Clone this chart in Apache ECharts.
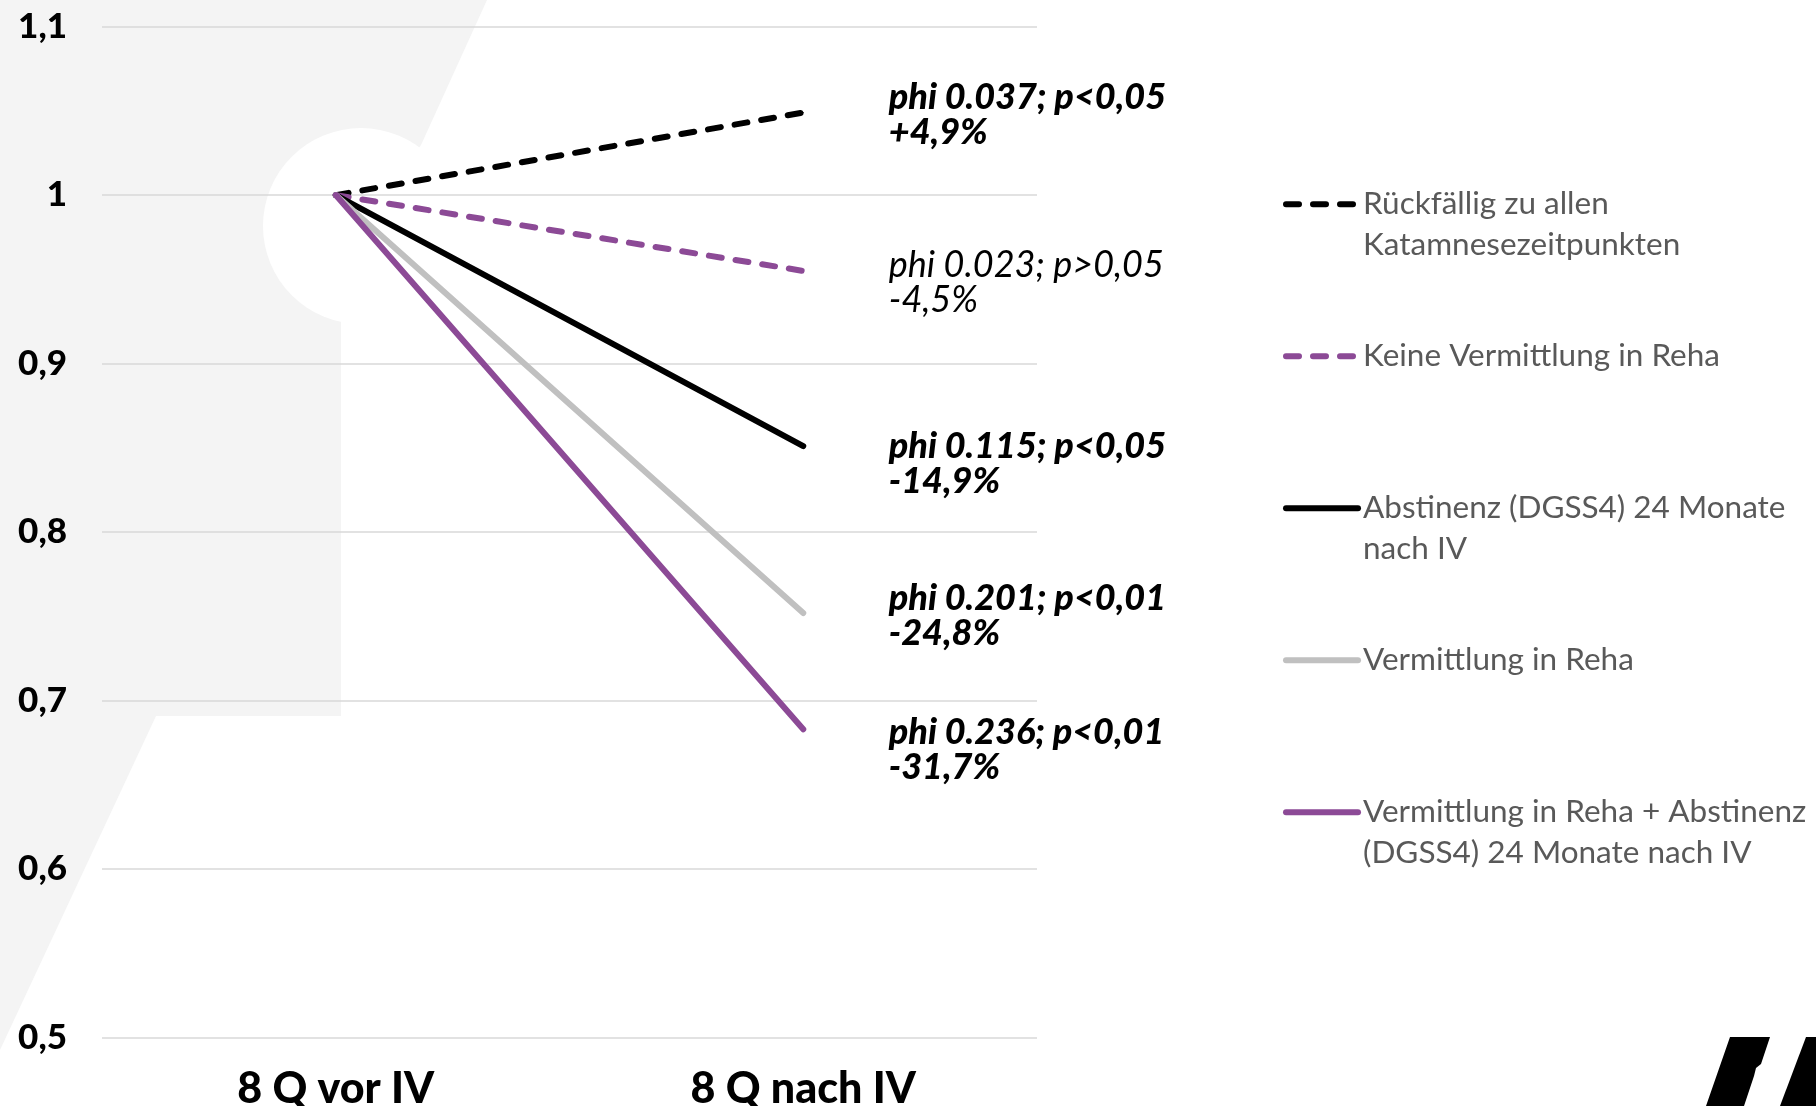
<!DOCTYPE html>
<html>
<head>
<meta charset="utf-8">
<script src="https://cdn.jsdelivr.net/npm/echarts@6/dist/echarts.min.js"></script>
<style>
  html, body { margin: 0; padding: 0; background: #ffffff; }
  #chart { width: 1816px; height: 1106px; }
</style>
</head>
<body>
<div id="chart"></div>
<script>
// Categories on the x axis
const categories = ['8 Q vor IV', '8 Q nach IV'];

// Series names (legend order)
const seriesNames = [
  'Rückfällig zu allen Katamnesezeitpunkten',
  'Keine Vermittlung in Reha',
  'Abstinenz (DGSS4) 24 Monate nach IV',
  'Vermittlung in Reha',
  'Vermittlung in Reha + Abstinenz (DGSS4) 24 Monate nach IV'
];

// Legend text, wrapped the way it is printed
const legendLines = [
  ['Rückfällig zu allen', 'Katamnesezeitpunkten'],
  ['Keine Vermittlung in Reha'],
  ['Abstinenz (DGSS4) 24 Monate', 'nach IV'],
  ['Vermittlung in Reha'],
  ['Vermittlung in Reha + Abstinenz', '(DGSS4) 24 Monate nach IV']
];

// Indexed values: before (8 Q vor IV) and after (8 Q nach IV)
const beforeValues = [1, 1, 1, 1, 1];
const afterValues = [1.049, 0.955, 0.851, 0.752, 0.683];

// Annotation texts next to the end points
const phiLabels = [
  'phi 0.037; p<0,05',
  'phi 0.023; p>0,05',
  'phi 0.115; p<0,05',
  'phi 0.201; p<0,01',
  'phi 0.236; p<0,01'
];
const changeLabels = ['+4,9%', '-4,5%', '-14,9%', '-24,8%', '-31,7%'];
const significant = [true, false, true, true, true];

// Y axis tick labels
const yTickLabels = { '0.5': '0,5', '0.6': '0,6', '0.7': '0,7', '0.8': '0,8', '0.9': '0,9', '1': '1', '1.1': '1,1' };

// Styling
const FONT = 'Lato, "Noto Sans", sans-serif';
const FONT_HEAVY = '"Lato Black", "Lato Heavy", Lato, "Noto Sans", sans-serif';
const lineColors = ['#000000', '#8c4a96', '#000000', '#c0c0c0', '#8c4a96'];
const dashed = [true, true, false, false, false];
const labelShiftY = [2, 12, 18, 3, 21];

const chart = echarts.init(document.getElementById('chart'), null, { renderer: 'canvas' });

const series = seriesNames.map(function (name, i) {
  return {
    name: name,
    type: 'line',
    symbol: 'circle',
    symbolSize: 1,
    showSymbol: true,
    z: 2 + i,
    color: lineColors[i],
    itemStyle: { color: lineColors[i] },
    lineStyle: {
      color: lineColors[i],
      width: 6,
      type: dashed[i] ? [13, 14] : 'solid',
      cap: 'round'
    },
    emphasis: { disabled: true },
    data: [
      beforeValues[i],
      {
        value: afterValues[i],
        label: {
          show: true,
          position: 'right',
          distance: 85,
          offset: [0, labelShiftY[i]],
          formatter: phiLabels[i] + '\n' + changeLabels[i],
          fontFamily: significant[i] ? FONT_HEAVY : FONT,
          fontSize: 36,
          fontStyle: 'italic',
          fontWeight: significant[i] ? 900 : 400,
          lineHeight: 35,
          color: '#000000'
        }
      }
    ]
  };
});

const option = {
  backgroundColor: '#ffffff',
  animation: false,
  graphic: [
    {
      type: 'polygon',
      z: -10,
      silent: true,
      shape: {
        points: [[0, 0], [487, 0], [421, 145], [361, 226], [341, 322], [341, 716], [156, 716], [0, 1050]]
      },
      style: { fill: '#f4f4f4' }
    },
    {
      type: 'circle',
      z: -9,
      silent: true,
      shape: { cx: 361, cy: 226, r: 98 },
      style: { fill: '#ffffff' }
    },
    {
      type: 'polygon',
      silent: true,
      shape: {
        points: [[1730, 1037], [1770, 1037], [1761, 1064], [1756, 1068], [1754, 1076], [1744, 1106], [1706, 1106]]
      },
      style: { fill: '#000000' }
    },
    {
      type: 'polygon',
      silent: true,
      shape: { points: [[1806, 1037], [1816, 1037], [1816, 1106], [1780, 1106]] },
      style: { fill: '#000000' }
    }
  ],
  legend: {
    orient: 'vertical',
    left: 1283,
    top: 143.5,
    padding: 0,
    itemWidth: 72,
    itemHeight: 6,
    itemGap: 71,
    selectedMode: false,
    itemStyle: { opacity: 0, borderWidth: 0 },
    lineStyle: { width: 6, cap: 'round' },
    formatter: function (name) {
      const lines = legendLines[seriesNames.indexOf(name)];
      // two-line entries start with an empty line so the first line sits level with the key
      return lines.length > 1 ? '\n' + lines.join('\n') : lines[0];
    },
    textStyle: {
      fontFamily: FONT,
      fontSize: 31.5,
      fontWeight: 400,
      color: '#595959',
      lineHeight: 40.5
    },
    data: seriesNames
  },
  grid: {
    left: 102,
    right: 779,
    top: 26.6,
    bottom: 68.4,
    containLabel: false,
    outerBoundsMode: 'none'
  },
  xAxis: {
    type: 'category',
    data: categories,
    boundaryGap: true,
    axisLine: { show: false },
    axisTick: { show: false },
    splitLine: { show: false },
    axisLabel: {
      margin: 30,
      fontFamily: FONT_HEAVY,
      fontSize: 43,
      fontWeight: 900,
      color: '#000000'
    }
  },
  yAxis: {
    type: 'value',
    min: 0.5,
    max: 1.1,
    interval: 0.1,
    axisLine: { show: false },
    axisTick: { show: false },
    splitLine: { lineStyle: { color: '#d9d9d9', width: 1.5 } },
    axisLabel: {
      margin: 35,
      fontFamily: FONT_HEAVY,
      fontSize: 35,
      fontWeight: 900,
      color: '#000000',
      formatter: function (v) {
        const key = String(Math.round(v * 10) / 10);
        return yTickLabels[key] !== undefined ? yTickLabels[key] : key;
      }
    }
  },
  series: series
};

chart.setOption(option);
</script>
</body>
</html>
